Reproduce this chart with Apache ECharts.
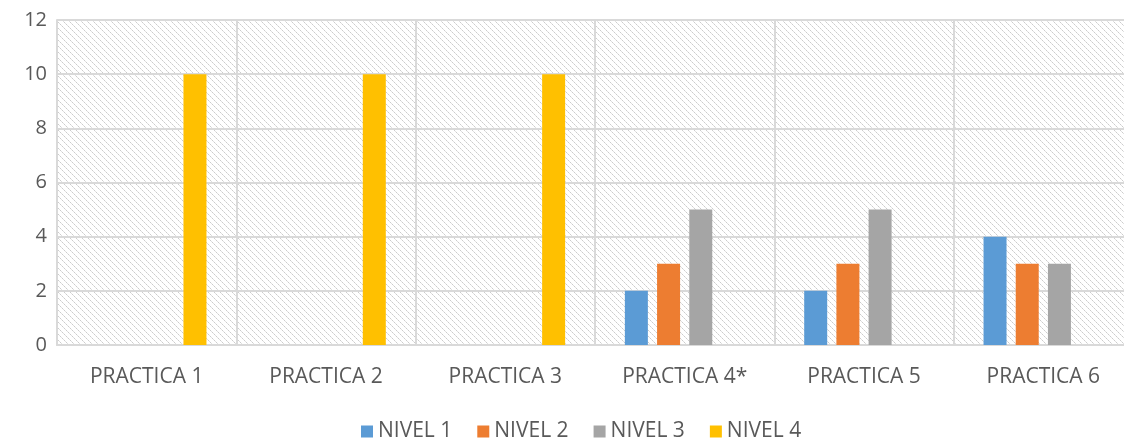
<!DOCTYPE html>
<html>
<head>
<meta charset="utf-8">
<script src="https://cdn.jsdelivr.net/npm/echarts@6/dist/echarts.min.js"></script>
<style>
  html, body { margin: 0; padding: 0; background: #fff; }
  #chart { width: 1124px; height: 440px; }
</style>
</head>
<body>
<div id="chart"></div>
<script>
var categories = ['PRACTICA 1', 'PRACTICA 2', 'PRACTICA 3', 'PRACTICA 4*', 'PRACTICA 5', 'PRACTICA 6']
var nivel1 = [0, 0, 0, 2, 2, 4]
var nivel2 = [0, 0, 0, 3, 3, 3]
var nivel3 = [0, 0, 0, 5, 5, 3]
var nivel4 = [10, 10, 10, 0, 0, 0]
var seriesNames = ['NIVEL 1', 'NIVEL 2', 'NIVEL 3', 'NIVEL 4']
var colors = ['#5B9BD5', '#ED7D31', '#A5A5A5', '#FFC000']

// hatched plot background (diagonal dotted lines)
var tile = document.createElement('canvas')
tile.width = 6
tile.height = 6
var ctx = tile.getContext('2d')
ctx.fillStyle = '#ffffff'
ctx.fillRect(0, 0, 6, 6)
ctx.fillStyle = '#cccccc'
for (var i = 0; i < 6; i += 2) {
  ctx.fillRect(i, i, 1, 1)
}
ctx.fillStyle = '#e0e0e0'
for (var j = 1; j < 6; j += 2) {
  ctx.fillRect(j, j, 1, 1)
}

var font = 'Open Sans'
var myChart = echarts.init(document.getElementById('chart'))
var allData = [nivel1, nivel2, nivel3, nivel4]

var option = {
  animation: false,
  color: colors,
  grid: {
    left: 57,
    top: 20,
    right: -9,
    bottom: 95,
    outerBoundsMode: 'none',
    show: true,
    borderWidth: 0,
    backgroundColor: { image: tile, repeat: 'repeat' }
  },
  legend: {
    bottom: -7,
    left: 356,
    itemWidth: 12,
    itemHeight: 12,
    itemGap: 25,
    icon: 'rect',
    textStyle: { color: '#595959', fontSize: 21, fontFamily: font },
    data: seriesNames
  },
  xAxis: {
    type: 'category',
    data: categories,
    axisTick: { show: false },
    axisLine: { lineStyle: { color: '#d9d9d9', width: 2 } },
    splitLine: { show: true, lineStyle: { color: '#d9d9d9', width: 2 } },
    axisLabel: { color: '#595959', fontSize: 21, fontFamily: font, margin: 22 }
  },
  yAxis: {
    type: 'value',
    min: 0,
    max: 12,
    interval: 2,
    axisLine: { show: true, lineStyle: { color: '#d9d9d9', width: 2 } },
    axisTick: { show: false },
    splitLine: { lineStyle: { color: '#d9d9d9', width: 2 } },
    axisLabel: { color: '#595959', fontSize: 20, fontFamily: font, margin: 10 }
  },
  series: seriesNames.map(function (name, i) {
    return {
      name: name,
      type: 'bar',
      barWidth: 23,
      barGap: '40%',
      data: allData[i]
    }
  })
}

option && myChart.setOption(option)
</script>
</body>
</html>
